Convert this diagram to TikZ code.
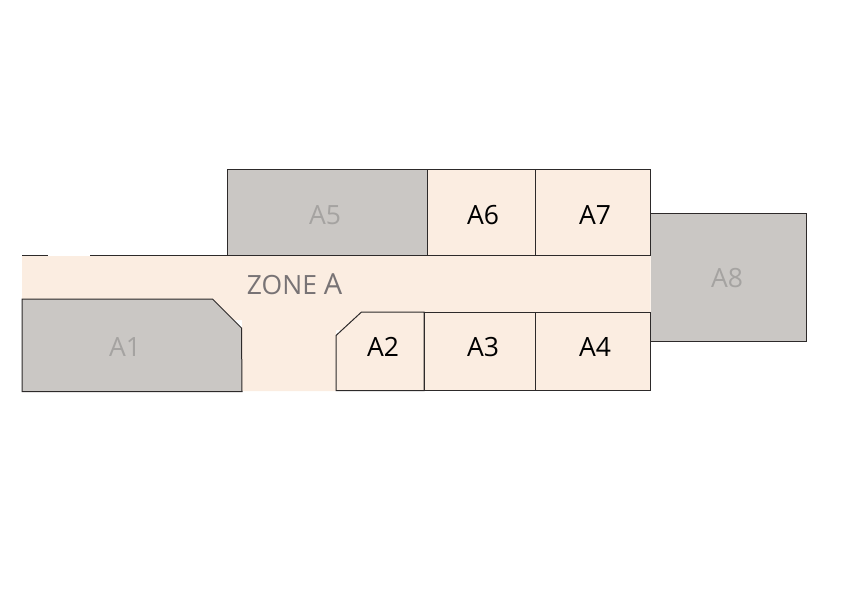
\documentclass[tikz,border=0pt]{standalone}
\usepackage{fontspec}
\setmainfont{Open Sans}
\definecolor{zonefill}{RGB}{251,237,225}
\definecolor{greyfill}{RGB}{202,199,196}
\definecolor{edge}{RGB}{45,42,42}
\definecolor{greytext}{RGB}{165,163,161}
\definecolor{zonetext}{RGB}{120,115,117}
\tikzset{
  unit/.style={fill=zonefill,draw=edge,line width=1pt,line join=miter},
  greyunit/.style={fill=greyfill,draw=edge,line width=1pt,line join=miter},
  darklabel/.style={text=black,anchor=base,font=\fontsize{26.5}{26.5}\selectfont,inner sep=0pt},
  greylabel/.style={text=greytext,anchor=base,font=\fontsize{26.5}{26.5}\selectfont,inner sep=0pt},
}
\begin{document}
\begin{tikzpicture}[x=1pt,y=-1pt]
\useasboundingbox (0,0) rectangle (842,595);
% zone floor
\fill[zonefill] (22,256) -- (650.5,256) -- (650.5,330) -- (336,330) -- (336,391) -- (242,391) -- (242,320) -- (22,320) -- cycle;
% top edge of the zone
\draw[edge,line width=1pt] (22,255.7) -- (48,255.7);
\draw[edge,line width=1pt] (90,255.7) -- (650.5,255.7);
% grey units
\draw[greyunit] (22,299) -- (212.5,299) -- (241.5,328) -- (242,391.5) -- (22,391.5) -- cycle;
\draw[greyunit] (227,169) rectangle (427.5,255.7);
\draw[greyunit] (650.5,213.3) -- (806,213.3) -- (806,341) -- (650.5,341);
% cream units
\draw[unit] (361.5,312) -- (424,312) -- (424,390.5) -- (336,390.5) -- (336,335.5) -- cycle;
\draw[unit] (424,312) rectangle (535.5,390.5);
\draw[unit] (535.5,312) rectangle (650.5,390.5);
\draw[unit] (427.5,169) rectangle (535.5,255.7);
\draw[unit] (535.5,169) rectangle (650.5,255.7);
% labels
\node[greylabel] (a1) at (125,356) {A1};
\node[darklabel] (a2) at (383,356) {A2};
\node[darklabel] (a3) at (483,356) {A3};
\node[darklabel] (a4) at (595,356) {A4};
\node[greylabel] (a5) at (325,224.3) {A5};
\node[darklabel] (a6) at (483,224.3) {A6};
\node[darklabel] (a7) at (595,224.3) {A7};
\node[greylabel] (a8) at (727,287.3) {A8};
\node[text=zonetext,anchor=base,inner sep=0pt,font=\fontsize{26.5}{26.5}\selectfont] (zone) at (294.5,294.5) {ZONE {\fontsize{29}{29}\selectfont A}};
\end{tikzpicture}
\end{document}
